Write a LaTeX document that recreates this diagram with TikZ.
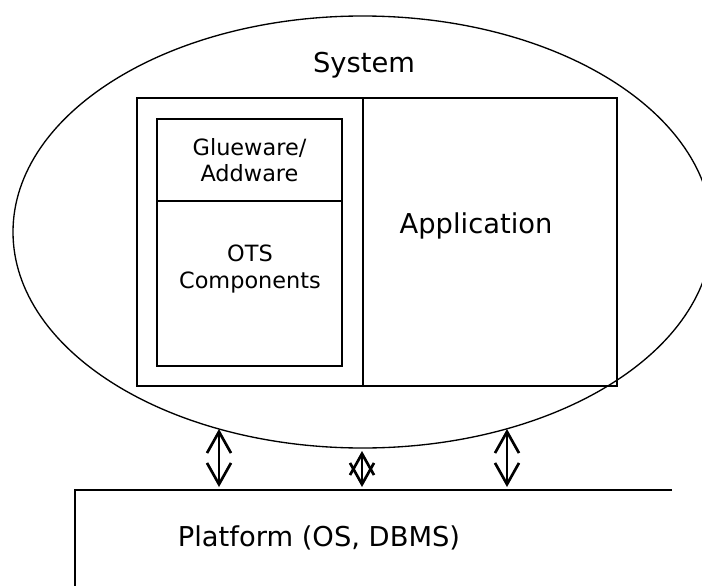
\documentclass[tikz,border=0pt]{standalone}
\usepackage{fontspec}
\setmainfont{DejaVu Sans}
\usetikzlibrary{shapes.geometric, arrows.meta, positioning}
\tikzset{
x=0.75pt, y=-0.75pt, % one unit is one pixel, y grows downwards
>={Straight Barb[length=16pt, width=18pt, line width=2pt]}, % open V heads
box/.style={draw, line width=1.1pt, inner sep=0pt, outer sep=0pt, anchor=north west}, % plain rectangles
bigtext/.style={font=\fontsize{20.5}{24}\selectfont, align=center}, % large labels
smalltext/.style={font=\fontsize{16.8}{20}\selectfont, align=center}, % labels in the small boxes
link/.style={<->, line width=1.3pt} % system to platform
}

\begin{document}
\begin{tikzpicture}
      \clip (0,0) rectangle (702,585);

      \node[ellipse, draw, line width=1pt, inner sep=0pt, minimum width=524.4pt, minimum height=324pt] (system) at (362.6,232) {};
      \node[bigtext] (systemlabel) at (364,65) {System};

      \node[box, minimum width=169.5pt, minimum height=216pt] (comp) at (137,98) {};
      \node[box, minimum width=190.5pt, minimum height=216pt, right=0pt of comp] (app) {};
      \node[box, minimum width=138.75pt, minimum height=61.5pt, smalltext] (glue) at (157,119) {Glueware/\\Addware};
      \node[box, minimum width=138.75pt, minimum height=123.75pt, below=0pt of glue] (ots) {};
      \node[smalltext] (otslabel) at (250,269) {OTS\\Components};
      \node[bigtext] (applabel) at (476,226) {Application};

      \draw[line width=1.1pt] (672,490) -| (75,600);
      \node[bigtext] (platformlabel) at (319,538) {Platform (OS, DBMS)};

      \coordinate (s1) at (219,429);
      \coordinate (p1) at (219,487);
      \coordinate (s2) at (362,451);
      \coordinate (p2) at (362,487);
      \coordinate (s3) at (507,429);
      \coordinate (p3) at (507,487);
      \draw[link] (s1) -- (p1);
      \draw[link] (s2) -- (p2);
      \draw[link] (s3) -- (p3);
\end{tikzpicture}
\end{document}
